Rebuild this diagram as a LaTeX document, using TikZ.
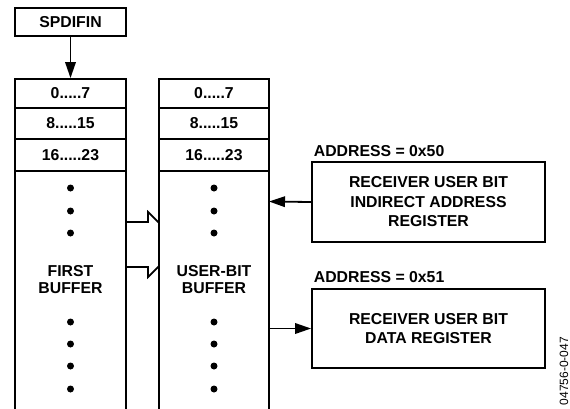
\documentclass[tikz,border=0pt]{standalone}
\usepackage{fontspec}
\setmainfont{Liberation Sans}
\usetikzlibrary{arrows.meta}
\begin{document}
\begin{tikzpicture}[x=1pt,y=-1pt,
  line width=1.8pt,
  lbl/.style={font=\fontsize{15.8}{18}\selectfont\bfseries},
  box/.style={draw,line width=1.8pt,inner sep=0pt,fill=white,align=center,font=\fontsize{15.8}{19.5}\selectfont\bfseries},
  cell/.style={draw,line width=1.8pt,inner sep=0pt,minimum width=111pt,font=\fontsize{15.8}{18}\selectfont\bfseries},
  dotmark/.style={circle,fill=black,inner sep=0pt,minimum size=7pt},
  arr/.style={-{Triangle[length=16pt,width=10.5pt]},line width=1.8pt}]
\useasboundingbox (0,0) rectangle (570,408);
% SPDIFIN
\node[box,minimum width=111pt,minimum height=28pt] (sp) at (70.5,22) {SPDIFIN};
% bus arrow (partly hidden behind the user-bit buffer)
\draw[fill=white,line join=miter] (126,222) -- (148,222) -- (148,212) -- (181,244.5) -- (148,277) -- (148,267) -- (126,267);
% first buffer
\draw[fill=white] (15,409) -- (15,171) -- (126,171) -- (126,409);
\node[cell,minimum height=29pt] (f0) at (70.5,93.5) {0.....7};
\node[cell,minimum height=31pt] (f1) at (70.5,123.5) {8.....15};
\node[cell,minimum height=32pt] (f2) at (70.5,155) {16.....23};
% user-bit buffer
\draw[fill=white] (159,409) -- (159,171) -- (269,171) -- (269,409);
\node[cell,minimum width=110pt,minimum height=29pt] (u0) at (214,93.5) {0.....7};
\node[cell,minimum width=110pt,minimum height=31pt] (u1) at (214,123.5) {8.....15};
\node[cell,minimum width=110pt,minimum height=32pt] (u2) at (214,155) {16.....23};
\coordinate (uin) at (269,201.5);
\coordinate (uout) at (269,328.5);
% dots
\foreach \y [count=\i] in {188,211,233,322,344,366,389}{
  \node[dotmark] (fd\i) at (70.5,\y) {};
  \node[dotmark] (ud\i) at (214,\y) {};
}
\node[lbl,align=center,font=\fontsize{15.8}{17.5}\selectfont\bfseries] (fl) at (70.5,279.5) {FIRST\\BUFFER};
\node[lbl,align=center,font=\fontsize{15.8}{17.5}\selectfont\bfseries] (ul) at (214,279.5) {USER-BIT\\BUFFER};
% SPDIFIN arrow
\draw[arr] (sp.south) -- (f0.north);
% registers
\node[box,minimum width=233pt,minimum height=80pt] (r1) at (428.5,202) {RECEIVER USER BIT\\INDIRECT ADDRESS\\REGISTER};
\node[box,minimum width=233pt,minimum height=79pt] (r2) at (428.5,328.5) {RECEIVER USER BIT\\DATA REGISTER};
\node[lbl,anchor=base west,inner sep=0pt] (a1) at (313,156.5) {ADDRESS = 0x50};
\node[lbl,anchor=base west,inner sep=0pt] (a2) at (313,282.5) {ADDRESS = 0x51};
\draw[arr] (r1.west) -- (uin);
\draw[arr] (uout) -- (r2.west);
% figure number
\node[rotate=90,font=\fontsize{12}{13}\selectfont,inner sep=0pt] (fig) at (564,371) {04756-0-047};
\end{tikzpicture}
\end{document}
